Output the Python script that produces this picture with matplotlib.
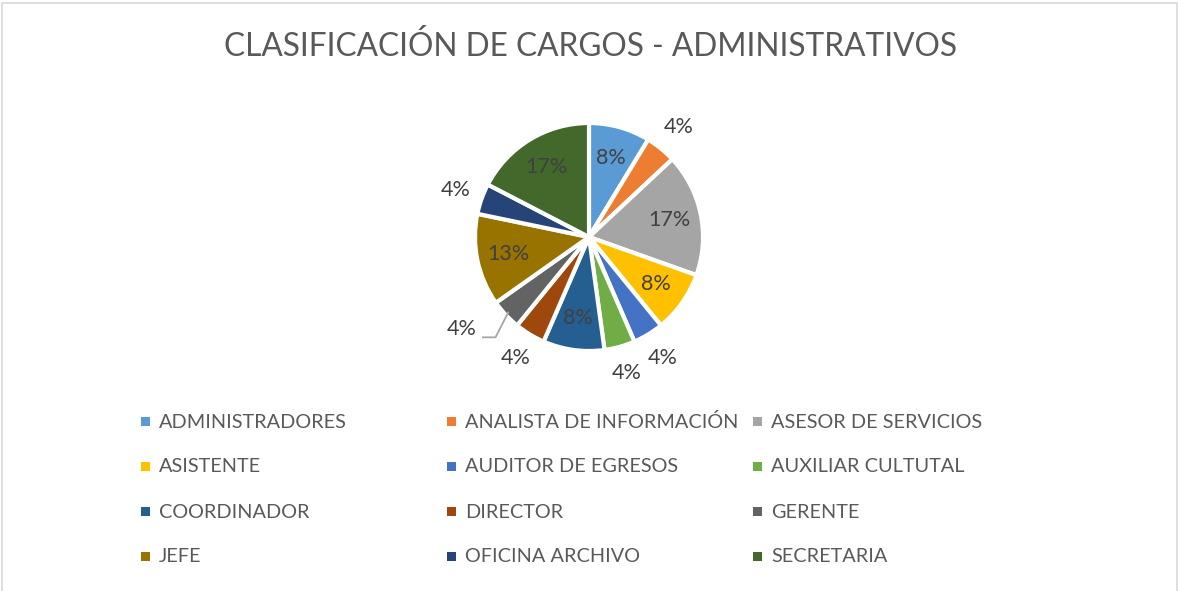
import numpy as np
import matplotlib.pyplot as plt
from matplotlib.patches import Rectangle

cargos = ['ADMINISTRADORES', 'ANALISTA DE INFORMACIÓN', 'ASESOR DE SERVICIOS',
          'ASISTENTE', 'AUDITOR DE EGRESOS', 'AUXILIAR CULTUTAL',
          'COORDINADOR', 'DIRECTOR', 'GERENTE',
          'JEFE', 'OFICINA ARCHIVO', 'SECRETARIA']
cantidad = [2, 1, 4, 2, 1, 1, 2, 1, 1, 3, 1, 4]
colores = ['#5B9BD5', '#ED7D31', '#A5A5A5', '#FFC000', '#4472C4', '#70AD47',
           '#255E91', '#9E480E', '#636363', '#997300', '#264478', '#43682B']

plt.rcParams['font.family'] = ['Lato', 'DejaVu Sans']

W, H = 1178, 591
fig = plt.figure(figsize=(W / 100, H / 100), dpi=100)

# chart border
fig.patches.append(Rectangle((1.5 / W, -0.01), (W - 3) / W, 1 - 2.5 / H + 0.01,
                             transform=fig.transFigure, fill=False,
                             edgecolor='#D9D9D9', linewidth=1.2))

fig.text(590 / W, 1 - 47 / H, 'CLASIFICACIÓN DE CARGOS - ADMINISTRATIVOS',
         ha='center', va='center', fontsize=22.8, color='#595959')

# pie
cx, cy, r = 589, 237, 114
ax = fig.add_axes([(cx - r) / W, (H - cy - r) / H, 2 * r / W, 2 * r / H])
wedges, _ = ax.pie(cantidad, colors=colores, startangle=90, counterclock=False,
                   wedgeprops=dict(edgecolor='white', linewidth=3))
ax.set_xlim(-1, 1)
ax.set_ylim(-1, 1)
ax.set_aspect('equal')
ax.set_axis_off()

total = sum(cantidad)
acum = np.cumsum([0] + cantidad[:-1])
for i, v in enumerate(cantidad):
    pct = int(v / total * 100)
    ang = np.radians(90 - (acum[i] + v / 2) / total * 360)
    if pct >= 8:
        d = 0.72
    else:
        d = 1.24
    x, y = d * np.cos(ang), d * np.sin(ang)
    if cargos[i] == 'GERENTE':
        # label pulled out with leader line
        x0, y0 = 0.97 * np.cos(ang), 0.97 * np.sin(ang)
        ax.plot([x0, -0.82, -0.93], [y0, -0.88, -0.88], color='#A6A6A6',
                linewidth=1.3, clip_on=False)
        x, y = -1.12, -0.81
    ax.text(x, y, f'{pct}%', ha='center', va='center', fontsize=15.5,
            color='#404040')

# legend, 3 columns row by row
for i, (nombre, c) in enumerate(zip(cargos, colores)):
    fila, col = divmod(i, 3)
    lx = 145 + 306 * col
    ly = 422 + 45 * fila
    fig.patches.append(Rectangle(((lx - 4) / W, 1 - (ly + 4) / H), 9 / W, 9 / H,
                                 transform=fig.transFigure, facecolor=c,
                                 edgecolor='none'))
    fig.text((lx + 14) / W, 1 - ly / H, nombre, ha='left', va='center',
             fontsize=14.3, color='#595959')

fig.savefig('out.png', dpi=100)
